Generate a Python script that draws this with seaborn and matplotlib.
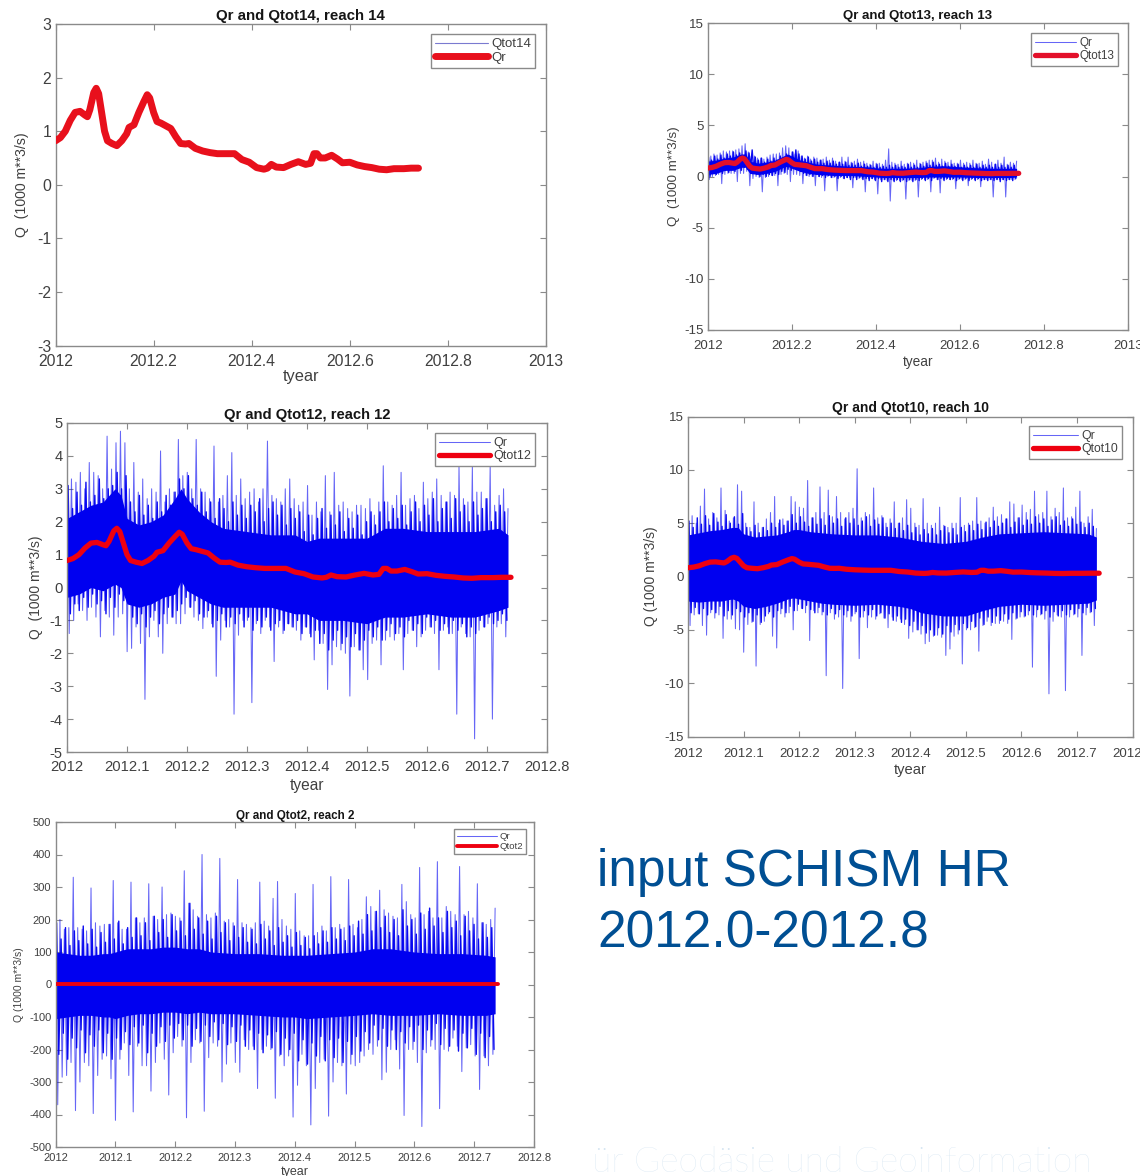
import numpy as np
import matplotlib
matplotlib.use("Agg")
import matplotlib.pyplot as plt
import seaborn as sns

sns.set_theme(style="white")
plt.rcParams['font.family'] = ['Liberation Sans', 'DejaVu Sans']

W, H = 1140, 1176

# ---------- values ----------
qtot_t = [0,.01,.02,.03,.04,.05,.06,.065,.07,.078,.083,.088,.094,.10,.106,.115,.125,.135,.145,.15,.16,.17,.18,.187,.192,.20,.207,.215,.225,.235,.245,.255,.265,.272,.285,.30,.315,.33,.35,.365,.38,.395,.41,.425,.432,.44,.45,.465,.48,.495,.51,.52,.527,.533,.54,.55,.563,.575,.585,.60,.615,.63,.645,.66,.675,.69,.71,.725,.74]
qtot_v = [.82,.88,1.0,1.2,1.35,1.37,1.3,1.27,1.4,1.72,1.8,1.7,1.35,1.0,.82,.77,.73,.82,.95,1.07,1.12,1.35,1.55,1.68,1.62,1.35,1.18,1.15,1.1,1.05,.9,.77,.76,.77,.68,.63,.6,.58,.58,.58,.47,.42,.32,.29,.31,.38,.33,.32,.38,.43,.38,.4,.58,.58,.5,.5,.55,.48,.41,.42,.37,.34,.32,.29,.28,.3,.3,.31,.31]
qtot2_v = [1.0] * len(qtot_t)

core_t = [0,.02,.04,.06,.08,.09,.10,.12,.14,.16,.18,.19,.20,.22,.24,.26,.30,.34,.38,.40,.42,.46,.50,.53,.56,.60,.64,.68,.72,.735]

qr13_hi = [2.7,2.0,2.2,2.1,2.3,2.5,2.4,2.5,2.5,2.6,
           2.7,3.0,3.2,2.4,2.0,2.0,1.8,1.8,1.7,1.9,
           2.1,2.2,2.2,2.3,2.8,3.0,2.8,2.4,2.2,2.5,
           2.0,1.8,2.0,1.7,1.9,1.8,1.6,1.7,1.9,1.6,
           1.8,1.5,1.4,1.9,1.5,1.9,1.4,1.5,1.7,1.4,
           1.5,1.3,1.2,1.5,1.3,1.3,1.2,1.6,2.7,1.4,
           1.3,1.2,1.5,1.2,1.3,1.4,1.3,1.6,1.3,1.4,
           1.5,1.6,1.6,1.8,1.4,1.7,1.5,1.4,1.6,1.3,
           1.3,1.6,1.3,1.4,1.3,1.6,1.3,1.3,1.5,1.2,
           1.7,1.4,1.2,1.6,1.3,1.9,1.2,1.4,1.3,1.5]
qr13_lo = [-.3,.0,.1,.2,-.7,.2,.3,.3,.3,-.5,
           .3,.3,.5,-.9,-.2,.0,-.1,-1.5,-.1,.0,
           .1,.1,-.9,.2,.3,.2,-.5,.2,.2,.1,
           -.7,.1,.0,.0,-.9,.0,-.1,-1.4,.0,-.1,
           -.1,-1.4,-.1,-.2,-.1,-.1,-1.1,-.1,-.2,-.2,
           -1.5,-.2,-.2,-.3,-1.7,-.3,-.3,-.4,-2.4,-.4,
           -.4,-.4,-.4,-2.2,-.4,-.4,-.4,-2.0,-.3,-.3,
           -.3,-1.5,-.2,-.3,-1.6,-.3,-.3,-.3,-.3,-1.2,
           -.3,-.3,-.3,-.9,-.3,-.3,-.3,-1.0,-.3,-.3,
           -.3,-2.0,-.3,-.3,-.3,-2.0,-.3,-.3,-.3,-.1]
mid13_hi = [1.9,1.6,2.0,1.7,2.1,1.8,2.2,2.0,2.4,2.1,
            2.3,2.0,2.5,2.3,2.6,1.9,1.6,1.8,1.4,1.7,
            1.5,1.8,1.6,2.0,1.8,2.2,2.0,2.4,2.6,2.2,
            2.0,1.7,1.9,1.5,1.7,1.4,1.6,1.3,1.5,1.3,
            1.5,1.2,1.4,1.2,1.4,1.1,1.3,1.1,1.3,1.0,
            1.2,1.0,1.1,.9,1.2,.9,1.0,.9,1.1,.9,
            1.1,.9,1.0,.9,1.2,.9,1.1,.9,1.2,1.0,
            1.3,1.1,1.4,1.1,1.2,1.0,1.3,1.0,1.2,1.0,
            1.2,.9,1.1,.9,1.1,.9,1.2,.9,1.1,.9,
            1.1,.9,1.2,.9,1.1,.9,1.1,.9,1.1,.9]
mid13_lo = [.0,.3,.2,.5,.3,.6,.4,.7,.5,.8,
            .6,.9,.7,1.0,.6,.2,.0,.2,.0,.2,
            .1,.3,.2,.5,.4,.7,.6,.9,.7,.5,
            .3,.1,.2,.0,.2,.0,.1,-.1,.1,-.1,
            .0,-.2,.0,-.2,-.1,-.3,-.1,-.3,-.1,-.3,
            -.2,-.4,-.2,-.4,-.2,-.5,-.3,-.5,-.3,-.5,
            -.3,-.5,-.3,-.5,-.3,-.5,-.3,-.4,-.2,-.4,
            -.2,-.4,-.1,-.3,-.2,-.4,-.2,-.3,-.2,-.4,
            -.2,-.4,-.2,-.4,-.2,-.4,-.2,-.4,-.3,-.4,
            -.3,-.4,-.3,-.5,-.3,-.4,-.3,-.4,-.2,-.1]
core13_hi = [1.5,1.6,1.8,1.9,2.2,2.2,1.5,1.3,1.4,1.6,2.0,2.2,2.0,1.6,1.4,1.2,1.1,1.0,.95,.85,.8,.8,.85,1.0,1.05,.95,.85,.8,.8,.8]
core13_lo = [.2,.3,.6,.6,.9,.9,.3,.2,.3,.5,.9,1.0,.8,.5,.3,.2,.1,.1,.0,-.05,-.1,-.1,-.1,-.05,-.05,-.05,-.1,-.1,-.1,-.05]

qr12_hi = [4.4,3.3,3.2,3.5,3.0,3.8,3.5,3.4,3.0,4.6,
           3.6,4.4,4.75,4.4,3.0,3.8,2.9,3.3,2.7,3.0,
           2.9,4.15,2.6,3.0,2.9,4.5,3.4,3.5,3.0,4.5,
           3.0,2.9,2.7,4.3,2.6,2.8,3.4,4.1,2.8,3.3,
           2.7,2.9,3.0,2.6,3.0,4.45,2.8,2.7,2.6,3.0,
           3.3,2.7,2.5,2.6,3.1,2.2,2.6,2.3,3.4,2.3,
           3.5,2.5,2.6,2.4,2.3,2.5,2.5,2.4,2.7,2.2,
           2.6,3.7,2.6,2.5,2.8,3.5,2.5,2.7,2.8,2.4,
           3.2,2.7,2.9,3.3,2.8,2.6,2.9,2.8,3.7,2.7,
           2.6,3.7,2.9,2.9,2.7,3.7,2.5,2.8,3.0,2.4]
qr12_lo = [-1.4,-1.0,-.5,-.7,-1.0,-.6,-.9,-1.5,-.7,-.9,
           -1.45,-.9,-.8,-1.95,-1.85,-1.2,-1.7,-3.4,-1.5,-1.0,
           -1.5,-2.0,-1.1,-.9,-1.1,-1.1,-.8,-.6,-.9,-1.0,
           -1.25,-.9,-1.1,-2.7,-1.6,-1.0,-1.2,-3.85,-1.45,-1.0,
           -1.0,-3.5,-1.1,-1.4,-1.0,-1.2,-2.25,-1.2,-1.4,-1.1,
           -1.2,-1.3,-1.6,-1.2,-1.4,-2.2,-1.3,-1.7,-3.1,-2.35,
           -1.8,-1.9,-2.0,-3.3,-1.8,-1.9,-2.5,-2.8,-1.7,-1.6,
           -2.35,-1.6,-1.5,-1.6,-1.4,-2.5,-1.4,-1.3,-1.8,-1.5,
           -1.3,-1.2,-1.4,-2.5,-1.3,-1.2,-1.4,-3.85,-1.2,-1.4,
           -1.5,-4.6,-1.3,-1.2,-1.1,-4.0,-1.2,-1.1,-1.5,-.7]
mid12_hi = [3.1,2.4,2.9,2.5,3.2,2.6,2.8,3.3,2.7,3.0,
            3.1,3.5,3.0,3.4,2.6,2.3,2.8,2.2,2.5,2.1,
            2.6,2.3,2.8,2.5,2.9,3.3,3.0,3.4,2.7,2.5,
            2.9,2.3,2.6,2.1,2.7,2.4,2.0,2.6,2.2,2.5,
            2.1,2.5,2.3,2.7,2.0,2.4,2.6,2.2,2.5,1.9,
            2.4,2.1,2.3,1.7,2.2,1.6,2.1,2.4,1.8,2.2,
            1.9,2.3,1.7,2.1,1.8,2.2,1.6,2.0,2.3,1.9,
            2.3,2.6,2.0,2.4,2.1,2.5,1.9,2.3,2.6,2.0,
            2.5,2.2,2.7,2.0,2.4,2.6,2.1,2.7,2.3,2.5,
            2.0,2.6,2.2,2.4,2.7,2.0,2.3,2.5,2.3,1.9]
mid12_lo = [-.8,-.5,-.7,-.3,-.6,-.2,-.5,-.4,-.8,-.3,
            -.6,-.2,-.4,-.1,-.9,-1.1,-.8,-1.2,-.9,-.7,
            -1.1,-.8,-.6,-.9,-.7,-.5,-.3,-.6,-.4,-.8,
            -.9,-.7,-1.2,-1.0,-.8,-1.2,-.9,-1.1,-.8,-1.2,
            -.9,-1.3,-1.0,-1.2,-.9,-1.3,-1.1,-1.0,-1.3,-1.1,
            -1.2,-1.0,-1.4,-1.2,-1.5,-1.3,-1.7,-1.4,-1.9,-1.6,
            -1.3,-1.7,-1.5,-1.8,-1.4,-1.9,-1.6,-1.3,-1.5,-1.2,
            -1.6,-1.3,-1.1,-1.4,-1.2,-1.5,-1.0,-1.3,-1.1,-1.4,
            -.9,-1.2,-1.0,-1.3,-1.1,-1.4,-1.0,-1.3,-1.1,-1.5,
            -1.2,-1.4,-1.0,-1.2,-.9,-1.1,-1.0,-.8,-1.0,-.7]
core12_hi = [2.1,2.3,2.5,2.6,3.0,2.8,2.1,1.9,2.0,2.2,2.7,3.0,2.7,2.3,2.0,1.8,1.7,1.6,1.6,1.4,1.5,1.5,1.5,1.8,1.8,1.7,1.7,1.7,1.8,1.6]
core12_lo = [-.3,-.2,.0,-.1,.1,.0,-.5,-.6,-.5,-.3,-.2,.2,-.1,-.3,-.5,-.6,-.6,-.6,-.8,-.8,-1.0,-1.0,-1.1,-.9,-.9,-.8,-.9,-.9,-.7,-.6]

qr10_hi = [7.8,5.7,5.0,6.6,8.2,5.4,6.0,5.5,8.3,6.2,
           5.2,5.5,8.6,8.0,5.0,4.6,7.0,5.0,4.6,5.4,
           6.0,7.5,5.0,5.4,5.2,7.5,7.0,6.5,6.4,9.0,
           5.5,6.0,8.4,6.0,8.1,5.6,7.5,6.0,5.4,6.0,
           6.4,10.1,5.5,6.0,5.8,8.3,5.5,5.7,5.0,5.4,
           7.0,5.0,5.5,7.2,6.4,5.0,4.8,7.3,5.0,4.8,
           5.0,6.5,4.8,4.6,5.0,5.0,7.4,4.8,5.0,5.2,
           7.4,5.2,5.0,5.5,6.5,5.6,5.8,5.4,7.0,6.8,
           5.5,6.7,6.0,6.3,8.0,5.8,6.0,8.0,5.6,6.4,
           6.0,8.3,5.5,5.6,6.5,8.0,5.0,5.6,6.3,4.5]
qr10_lo = [-4.6,-3.6,-3.5,-4.6,-5.5,-3.4,-3.9,-3.6,-5.8,-4.0,
           -4.0,-4.9,-5.0,-7.1,-4.5,-4.3,-8.4,-4.5,-4.2,-3.5,
           -5.6,-6.7,-3.5,-3.8,-3.4,-5.0,-3.2,-3.0,-3.4,-6.0,
           -3.2,-3.4,-3.6,-9.3,-3.4,-4.0,-3.8,-10.5,-3.8,-4.2,
           -3.5,-7.7,-3.8,-4.8,-3.8,-4.0,-3.5,-3.9,-4.8,-3.8,
           -4.2,-4.0,-4.5,-5.8,-5.2,-5.0,-5.4,-6.3,-6.1,-5.6,
           -5.5,-5.7,-7.4,-6.8,-5.6,-5.4,-8.2,-5.0,-5.0,-4.8,
           -7.0,-4.6,-4.2,-4.6,-4.4,-4.4,-4.2,-4.4,-5.9,-4.0,
           -3.8,-3.8,-3.6,-8.5,-3.8,-3.6,-4.0,-11.0,-4.2,-3.6,
           -3.8,-10.7,-3.8,-3.6,-3.8,-7.4,-3.6,-3.4,-4.6,-2.4]
mid10_hi = [5.2,4.6,5.5,4.9,5.7,4.8,5.9,5.1,4.7,5.8,
            5.0,5.6,4.9,5.9,4.6,4.2,4.8,4.1,4.6,4.3,
            5.0,4.6,5.3,4.8,5.2,5.8,5.0,5.6,5.1,4.7,
            5.5,4.9,5.4,4.8,5.7,5.0,5.4,4.7,5.5,5.0,
            5.4,4.8,5.2,5.6,4.7,5.3,4.9,5.5,4.6,5.0,
            4.5,5.0,4.3,4.8,4.1,4.6,3.9,4.4,4.0,4.5,
            3.9,4.3,4.7,4.1,4.5,3.9,4.6,4.2,4.8,4.3,
            4.9,4.4,5.1,4.6,5.2,4.7,5.0,5.4,4.6,5.1,
            5.5,4.8,5.3,4.9,5.6,5.0,5.4,4.7,5.3,5.6,
            4.8,5.2,4.7,5.4,4.9,5.1,4.6,5.0,4.7,4.2]
mid10_lo = [-3.4,-2.9,-3.5,-3.0,-3.6,-3.1,-3.4,-2.8,-3.7,-3.2,
            -3.6,-3.0,-3.3,-3.8,-3.4,-4.2,-3.6,-4.3,-3.7,-3.3,
            -3.8,-3.2,-3.0,-3.4,-2.8,-3.2,-2.6,-3.0,-2.7,-3.1,
            -3.4,-2.9,-3.3,-3.6,-3.0,-3.5,-3.1,-3.6,-3.2,-3.7,
            -3.3,-3.8,-3.2,-3.6,-3.1,-3.7,-3.4,-3.9,-3.5,-4.1,
            -3.7,-4.3,-4.0,-4.6,-4.2,-5.0,-4.6,-5.3,-5.0,-5.5,
            -4.8,-5.4,-4.6,-5.2,-4.5,-5.0,-4.4,-4.8,-4.2,-4.7,
            -3.9,-4.5,-3.8,-4.3,-3.7,-4.1,-3.5,-4.0,-3.4,-3.9,
            -3.3,-3.7,-3.2,-3.6,-3.1,-3.5,-3.2,-3.8,-3.3,-3.7,
            -3.2,-3.6,-3.1,-3.5,-3.0,-3.4,-2.9,-3.3,-3.0,-2.6]
core10_hi = [3.9,4.1,4.3,4.4,4.6,4.6,4.0,3.7,3.8,3.9,4.2,4.4,4.4,4.2,4.1,4.0,3.9,3.9,3.7,3.5,3.3,3.1,3.3,3.7,4.0,4.1,4.2,4.1,4.0,3.7]
core10_lo = [-2.3,-2.4,-2.3,-2.3,-2.1,-2.3,-2.8,-3.0,-2.8,-2.5,-2.1,-2.0,-2.1,-2.3,-2.5,-2.6,-2.7,-2.6,-2.8,-3.0,-3.4,-3.7,-3.7,-3.2,-2.8,-2.6,-2.7,-2.6,-2.5,-2.2]

qr2_hi = [340,200,170,175,330,175,170,165,297,190,
          180,185,185,320,190,170,170,315,205,190,
          205,310,210,200,300,215,220,210,205,350,
          250,230,210,400,215,205,220,388,195,200,
          190,323,190,185,175,190,315,195,180,265,
          317,200,180,170,280,165,150,150,308,160,
          180,165,332,175,185,175,323,185,175,200,
          270,240,225,290,230,220,210,205,308,255,
          215,205,360,215,225,205,378,205,240,225,
          215,363,215,225,205,310,190,185,200,235]
qr2_lo = [-370,-285,-280,-240,-388,-300,-240,-250,-397,-280,
          -230,-220,-290,-418,-230,-180,-280,-392,-190,-250,
          -250,-328,-240,-180,-230,-340,-210,-160,-190,-410,
          -240,-170,-180,-390,-225,-180,-190,-300,-245,-180,
          -240,-270,-170,-200,-190,-320,-200,-190,-200,-350,
          -220,-250,-220,-408,-310,-215,-250,-432,-320,-240,
          -230,-405,-300,-240,-250,-337,-245,-250,-240,-220,
          -200,-215,-190,-293,-270,-200,-170,-260,-403,-200,
          -200,-240,-437,-210,-190,-200,-382,-200,-205,-165,
          -190,-268,-195,-185,-220,-323,-220,-250,-215,-215]
mid2_hi = [190,140,175,120,165,135,180,125,170,115,
           160,130,185,140,195,125,175,145,205,150,
           190,135,210,160,200,145,215,165,195,150,
           250,170,205,155,195,140,210,160,190,135,
           180,145,175,130,170,125,185,140,165,120,
           175,130,150,115,160,120,145,110,150,125,
           165,130,175,140,170,135,180,150,195,155,
           215,165,225,175,210,160,200,150,230,180,
           200,155,220,170,235,180,205,160,225,175,
           195,150,210,165,185,140,190,145,175,135]
mid2_lo = [-215,-150,-230,-165,-195,-140,-210,-155,-190,-140,
           -210,-150,-230,-165,-200,-145,-185,-130,-180,-125,
           -210,-150,-190,-130,-175,-125,-165,-120,-170,-125,
           -190,-135,-175,-125,-160,-115,-170,-120,-185,-130,
           -175,-125,-190,-140,-200,-150,-210,-155,-195,-145,
           -215,-165,-200,-150,-235,-170,-245,-180,-220,-160,
           -235,-170,-225,-165,-240,-175,-215,-160,-205,-145,
           -180,-125,-170,-135,-190,-140,-200,-145,-180,-130,
           -175,-125,-200,-140,-170,-120,-185,-135,-190,-140,
           -205,-150,-195,-135,-215,-150,-225,-160,-200,-125]
core2_hi = [100,95,90,90,95,95,100,110,110,110,115,115,115,110,110,100,95,95,90,90,90,95,100,110,110,100,95,95,90,85]
core2_lo = [-105,-100,-95,-95,-100,-100,-105,-95,-90,-90,-85,-85,-85,-90,-85,-90,-90,-95,-100,-100,-105,-100,-95,-90,-95,-95,-90,-95,-95,-90]

ticks_wide = [2012, 2012.2, 2012.4, 2012.6, 2012.8, 2013]
labels_wide = ['2012', '2012.2', '2012.4', '2012.6', '2012.8', '2013']
ticks_narrow = [2012, 2012.1, 2012.2, 2012.3, 2012.4, 2012.5, 2012.6, 2012.7, 2012.8]
labels_narrow = ['2012', '2012.1', '2012.2', '2012.3', '2012.4', '2012.5', '2012.6', '2012.7', '2012.8']

RED = '#ee0010'
BLUE = '#0000f0'
GREY = '#8a8a8a'
TXT = '#404040'

fig = plt.figure(figsize=(W / 100, H / 100), dpi=100, facecolor='white')


def zig(hi, lo, shift):
    grid = 2012 + np.linspace(0, .735, len(hi))
    step = (grid[1] - grid[0]) / 2
    x = np.column_stack([grid + shift * step, grid + shift * step + step]).ravel()
    y = np.column_stack([hi, lo]).ravel()
    keep = x <= 2012.736
    return x[keep], y[keep]


def panel(box, title, ylabel, ylim, yticks, xlim, xticks, xlabels, fs, xfs, yfs, tfs, xpad, red_lw,
          red, names, legbox, legfs, handlelen, ylx, xly, thin=None, hi=None, lo=None, mhi=None, mlo=None,
          chi=None, clo=None, tpad=3, red_col=RED):
    l, t, r, b = box
    ax = fig.add_axes([l / W, 1 - b / H, (r - l) / W, (b - t) / H])
    ts = 2012 + np.asarray(qtot_t)
    if hi is not None:
        ax.fill_between(2012 + np.asarray(core_t), clo, chi, color=BLUE, lw=0, zorder=1)
        x, y = zig(mhi, mlo, .5)
        sns.lineplot(x=x, y=y, ax=ax, color=BLUE, lw=1.0, alpha=.95, sort=False,
                     estimator=None, errorbar=None, zorder=2)
        x, y = zig(hi, lo, 0)
        sns.lineplot(x=x, y=y, ax=ax, color=BLUE, lw=.75, alpha=.6, sort=False,
                     estimator=None, errorbar=None, label=names[0], zorder=2)
    else:
        sns.lineplot(x=ts, y=thin, ax=ax, color='#7a7ad0', lw=.8, sort=False,
                     estimator=None, errorbar=None, label=names[0], zorder=2)
    sns.lineplot(x=ts, y=red, ax=ax, color=red_col, lw=red_lw, sort=False, estimator=None,
                 errorbar=None, label=names[1], zorder=3, solid_capstyle='round', solid_joinstyle='round')
    ax.set_xlim(*xlim); ax.set_ylim(*ylim)
    ax.set_xticks(xticks); ax.set_xticklabels(xlabels)
    ax.set_yticks(yticks); ax.set_yticklabels([str(v) for v in yticks])
    ax.tick_params(axis='both', which='major', direction='in', length=4, width=.8, color=GREY,
                   labelsize=fs, labelcolor=TXT, top=True, right=True, bottom=True, left=True, pad=3)
    ax.tick_params(axis='x', pad=xpad)
    for s in ax.spines.values():
        s.set_color(GREY); s.set_linewidth(1.0); s.set_visible(True)
    ax.set_title(title, fontsize=tfs, fontweight='bold', color='#151515', pad=tpad)
    ax.set_xlabel('tyear', fontsize=xfs, color=TXT)
    ax.set_ylabel(ylabel, fontsize=yfs, color=TXT)
    ax.yaxis.set_label_coords(ylx, .5)
    ax.xaxis.set_label_coords(.5, xly)
    leg = ax.legend(loc='upper right', bbox_to_anchor=(legbox[0] / W, 1 - legbox[1] / H),
                    bbox_transform=fig.transFigure, borderaxespad=0, fontsize=legfs, frameon=True,
                    fancybox=False, framealpha=1, edgecolor=GREY, handlelength=handlelen,
                    handletextpad=.25, labelspacing=.1, borderpad=.32)
    leg.get_frame().set_linewidth(1.0)
    for txt in leg.get_texts():
        txt.set_color(TXT)
    return ax


panel((55.5, 24, 546, 345.5), 'Qr and Qtot14, reach 14', 'Q  (1000 m**3/s)', (-3, 3), [-3, -2, -1, 0, 1, 2, 3],
      (2012, 2013), ticks_wide, labels_wide, 11.3, 11.8, 10.2, 10.8, 6, 5.0,
      qtot_v, ['Qtot14', 'Qr'], (535, 34), 9.5, 4.0, -.054, -.073, thin=qtot_v, red_col='#e8101c')

panel((707.7, 23, 1128, 330), 'Qr and Qtot13, reach 13', 'Q  (1000 m**3/s)', (-15, 15), [-15, -10, -5, 0, 5, 10, 15],
      (2012, 2013), ticks_wide, labels_wide, 9.5, 9.8, 9.6, 9.5, 7, 3.8,
      qtot_v, ['Qr', 'Qtot13'], (1118, 33), 8.4, 3.55, -.066, -.08,
      hi=qr13_hi, lo=qr13_lo, mhi=mid13_hi, mlo=mid13_lo, chi=core13_hi, clo=core13_lo, red_col='#e3102a')

panel((67, 423, 547, 752), 'Qr and Qtot12, reach 12', 'Q  (1000 m**3/s)', (-5, 5), [-5, -4, -3, -2, -1, 0, 1, 2, 3, 4, 5],
      (2012, 2012.8), ticks_narrow, labels_narrow, 10.6, 11.2, 10, 10.6, 6, 3.8,
      qtot_v, ['Qr', 'Qtot12'], (535, 433), 9, 4.1, -.051, -.078,
      hi=qr12_hi, lo=qr12_lo, mhi=mid12_hi, mlo=mid12_lo, chi=core12_hi, clo=core12_lo)

panel((688, 416.5, 1132.5, 736.5), 'Qr and Qtot10, reach 10', 'Q (1000 m**3/s)', (-15, 15), [-15, -10, -5, 0, 5, 10, 15],
      (2012, 2012.8), ticks_narrow, labels_narrow, 9.5, 10.6, 10, 10, 8, 3.8,
      qtot_v, ['Qr', 'Qtot10'], (1122, 426), 8.8, 3.7, -.068, -.083,
      hi=qr10_hi, lo=qr10_lo, mhi=mid10_hi, mlo=mid10_lo, chi=core10_hi, clo=core10_lo)

panel((55.5, 822, 534, 1147), 'Qr and Qtot2, reach 2', 'Q (1000 m**3/s)', (-500, 500), list(range(-500, 501, 100)),
      (2012, 2012.8), ticks_narrow, labels_narrow, 8, 9, 7.5, 8.4, 4, 2.8,
      qtot2_v, ['Qr', 'Qtot2'], (526, 829), 6.8, 4.2, -.065, -.058,
      hi=qr2_hi, lo=qr2_lo, mhi=mid2_hi, mlo=mid2_lo, chi=core2_hi, clo=core2_lo, tpad=2)

fig.text(597 / W, 1 - 886 / H, 'input SCHISM HR', fontsize=37, color='#004f93', va='baseline', ha='left')
fig.text(597 / W, 1 - 947 / H, '2012.0-2012.8', fontsize=37, color='#004f93', va='baseline', ha='left')
fig.text(592 / W, 1 - 1172 / H, 'ür Geodäsie und Geoinformation', fontsize=25.7, color='#d5e5f2', va='baseline',
         ha='left', family=['Lato', 'DejaVu Sans'], fontweight='light')

fig.savefig('out.png', dpi=100, facecolor='white')
